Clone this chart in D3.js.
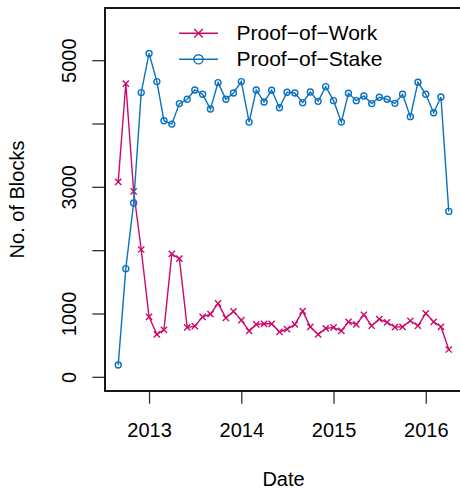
<!DOCTYPE html>
<html>
<head>
<meta charset="utf-8">
<script src="https://cdn.jsdelivr.net/npm/d3@7"></script>
<style>
  body { margin: 0; background: #fff; }
  svg { display: block; }
  text { font-family: "Liberation Sans", Arial, Helvetica, sans-serif; fill: #000; }
</style>
</head>
<body>
<svg id="chart" width="460" height="489"></svg>
<script>
// Monthly block counts per consensus type
const months = [
  "2012-09","2012-10","2012-11","2012-12",
  "2013-01","2013-02","2013-03","2013-04","2013-05","2013-06","2013-07","2013-08","2013-09","2013-10","2013-11","2013-12",
  "2014-01","2014-02","2014-03","2014-04","2014-05","2014-06","2014-07","2014-08","2014-09","2014-10","2014-11","2014-12",
  "2015-01","2015-02","2015-03","2015-04","2015-05","2015-06","2015-07","2015-08","2015-09","2015-10","2015-11","2015-12",
  "2016-01","2016-02","2016-03","2016-04"
];
const proofOfWork = [
  3078, 4631, 2929, 2010, 948, 669, 742, 1941, 1867, 780, 800, 948, 990, 1160, 930, 1033,
  895, 726, 827, 837, 837, 710, 753, 827, 1038, 790, 669, 764, 780, 726, 869, 827,
  980, 806, 911, 859, 785, 790, 885, 806, 1002, 869, 790, 431
];
const proofOfStake = [
  187, 1708, 2745, 4488, 5106, 4662, 4044, 3991, 4314, 4382, 4529, 4461, 4228, 4646, 4382, 4482,
  4662, 4022, 4529, 4339, 4524, 4250, 4493, 4482, 4329, 4498, 4350, 4582, 4361, 4022, 4477, 4361,
  4435, 4314, 4414, 4382, 4318, 4461, 4108, 4651, 4461, 4171, 4419, 2612
];
const seriesNames = ["Proof\u2212of\u2212Work", "Proof\u2212of\u2212Stake"];
const seriesColors = ["#CC0A6A", "#0A72C0"];
const yTicks = [0, 1000, 2000, 3000, 4000, 5000];
const yTickLabels = ["0", "1000", "", "3000", "", "5000"];
const xTickYears = [2013, 2014, 2015, 2016];
const yLimits = [0, 5600];

const svg = d3.select("#chart");
const box = { left: 105, right: 462, top: 8, bottom: 391 };
const parse = d3.timeParse("%Y-%m");
const dates = months.map(parse);

// Axis ranges padded by 4% on each side
const [d0, d1] = d3.extent(dates);
const padT = (d1 - d0) * 0.04;
const x = d3.scaleTime()
  .domain([new Date(+d0 - padT), new Date(+d1 + padT)])
  .range([box.left, box.right]);
const padY = (yLimits[1] - yLimits[0]) * 0.04;
const y = d3.scaleLinear()
  .domain([yLimits[0] - padY, yLimits[1] + padY])
  .range([box.bottom, box.top]);

const FONT = 20;
const LEGEND_FONT = 21;
const TICK = 12.7;

// X axis
const xAxis = d3.axisBottom(x)
  .tickValues(xTickYears.map(yr => new Date(yr, 0, 1)))
  .tickFormat(d3.timeFormat("%Y"))
  .tickSize(TICK).tickPadding(0);
const gx = svg.append("g").attr("transform", `translate(0,${box.bottom})`).call(xAxis);
gx.select(".domain").remove();
gx.selectAll(".tick line").attr("stroke", "#333").attr("stroke-width", 1.3);
gx.selectAll(".tick text").attr("font-size", FONT).attr("dy", null).attr("y", 46)
  .style("font-family", "'Liberation Sans', Arial, sans-serif");

// Y axis
const yAxis = d3.axisLeft(y)
  .tickValues(yTicks)
  .tickFormat((d, i) => yTickLabels[i])
  .tickSize(TICK).tickPadding(0);
const gy = svg.append("g").attr("transform", `translate(${box.left},0)`).call(yAxis);
gy.select(".domain").remove();
gy.selectAll(".tick line").attr("stroke", "#333").attr("stroke-width", 1.3);
gy.selectAll(".tick text")
  .attr("font-size", FONT)
  .attr("x", null).attr("dy", null)
  .attr("text-anchor", "middle")
  .attr("transform", `translate(${76 - box.left},0) rotate(-90)`)
  .style("font-family", "'Liberation Sans', Arial, sans-serif");

// Plot frame
svg.append("rect")
  .attr("x", box.left).attr("y", box.top)
  .attr("width", box.right - box.left).attr("height", box.bottom - box.top)
  .attr("fill", "none").attr("stroke", "#000").attr("stroke-width", 1.8);

// Axis titles
svg.append("text").attr("x", (box.left + box.right) / 2).attr("y", 486)
  .attr("text-anchor", "middle").attr("font-size", FONT).text("Date");
svg.append("text")
  .attr("transform", `translate(24,${(box.top + box.bottom) / 2}) rotate(-90)`)
  .attr("text-anchor", "middle").attr("font-size", FONT).text("No. of Blocks");

// Series
const series = [proofOfWork, proofOfStake];
const line = d3.line().x((d, i) => x(dates[i])).y(d => y(d));
const crossPath = r => `M${-r},${-r}L${r},${r}M${-r},${r}L${r},${-r}`;

function drawMarker(g, k, cx, cy) {
  if (k === 0) {
    g.append("path").attr("d", crossPath(3.1))
      .attr("transform", `translate(${cx},${cy})`)
      .attr("stroke", seriesColors[k]).attr("stroke-width", 1.4).attr("fill", "none");
  } else {
    g.append("circle").attr("cx", cx).attr("cy", cy).attr("r", 3)
      .attr("stroke", seriesColors[k]).attr("stroke-width", 1.4).attr("fill", "none");
  }
}

series.forEach((vals, k) => {
  const g = svg.append("g");
  g.append("path").datum(vals).attr("d", line)
    .attr("fill", "none").attr("stroke", seriesColors[k]).attr("stroke-width", 1.4);
  vals.forEach((v, i) => drawMarker(g, k, x(dates[i]), y(v)));
});

// Legend
const legend = svg.append("g");
const legendRows = [33.3, 59.3];
seriesNames.forEach((name, k) => {
  const ly = legendRows[k];
  legend.append("line").attr("x1", 179).attr("x2", 218).attr("y1", ly).attr("y2", ly)
    .attr("stroke", seriesColors[k]).attr("stroke-width", 1.4);
  if (k === 0) {
    legend.append("path").attr("d", crossPath(4.3)).attr("transform", `translate(198.5,${ly})`)
      .attr("stroke", seriesColors[k]).attr("stroke-width", 1.4).attr("fill", "none");
  } else {
    legend.append("circle").attr("cx", 198.5).attr("cy", ly).attr("r", 4.6)
      .attr("stroke", seriesColors[k]).attr("stroke-width", 1.4).attr("fill", "none");
  }
  legend.append("text").attr("x", 236.5).attr("y", ly + 7)
    .attr("font-size", LEGEND_FONT).text(name);
});
</script>
</body>
</html>
